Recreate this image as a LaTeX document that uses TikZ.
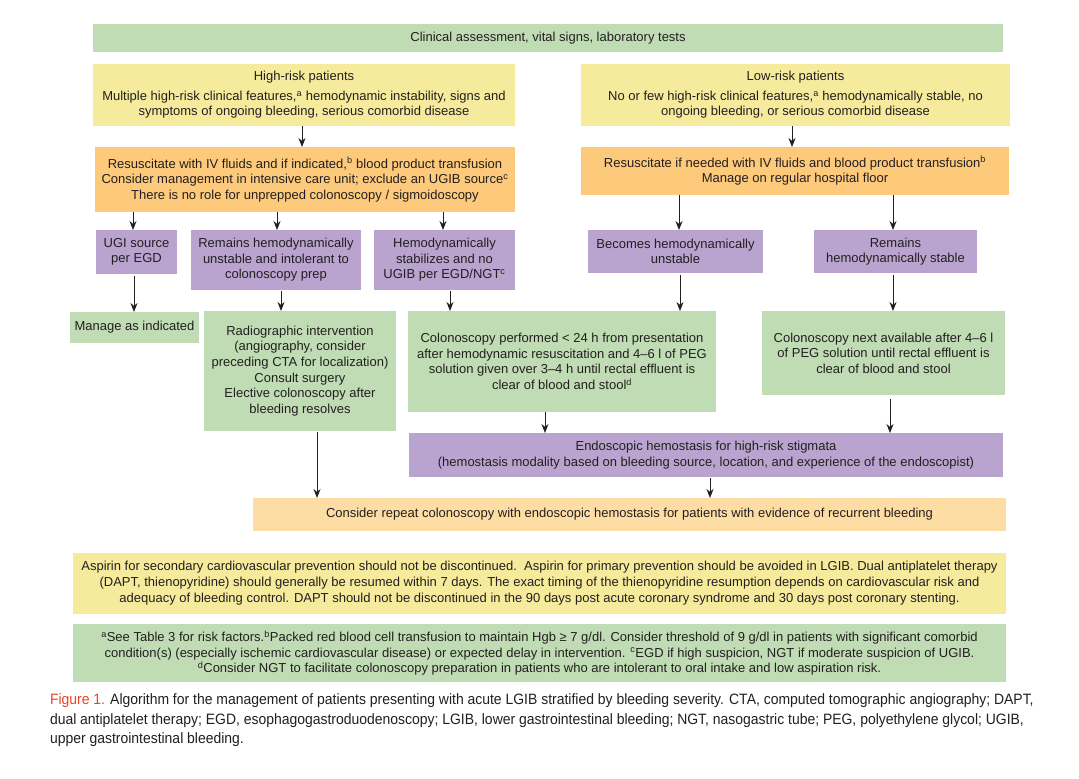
\documentclass[tikz,border=0pt]{standalone}
\usepackage{fontspec}
\setmainfont{Liberation Sans}
\newfontfamily\condf[FakeStretch=0.93]{Liberation Sans}
\usetikzlibrary{arrows.meta}
\definecolor{cgreen}{RGB}{192,220,180}
\definecolor{cyellow}{RGB}{246,235,156}
\definecolor{corange}{RGB}{253,201,122}
\definecolor{cpurple}{RGB}{185,164,208}
\definecolor{clight}{RGB}{254,221,165}
\definecolor{cred}{RGB}{232,68,40}
\definecolor{ctext}{RGB}{35,31,32}
\newcommand\fs{\fontsize{13}{15.6}\selectfont}
\newcommand\bx[7]{\node[#6, anchor=north west, minimum width={(#4)-(#2)}, minimum height={(#5)-(#3)}] (#1) at (#2,#3) {#7};}
\begin{document}
\begin{tikzpicture}[x=1pt,y=-1pt,
  every node/.style={text=ctext, inner sep=2pt, outer sep=0pt, align=center},
  gbox/.style={fill=cgreen, font=\fs},
  ybox/.style={fill=cyellow, font=\fs},
  obox/.style={fill=corange, font=\fs},
  pbox/.style={fill=cpurple, font=\fs},
  lbox/.style={fill=clight, font=\fs},
  arr/.style={draw=ctext, line width=1pt, -{Stealth[length=9pt,width=7pt]}}]
\useasboundingbox[fill=white] (0,0) rectangle (1079,779);
% column coordinates
\foreach \n/\v in {a/302,b/792,c/133,d/277,e/443,f/679,g/893,h/134,i/281,j/450,k/680,l/893,m/545,n/890,o/317,p/710}
  \coordinate (x\n) at (\v,0);
\bx{top}{93}{24}{1003}{52}{gbox}{Clinical assessment, vital signs, laboratory tests}
\bx{hr}{93}{64}{515}{126}{ybox}{High-risk patients\\[4pt]Multiple high-risk clinical features,\textsuperscript{a} hemodynamic instability, signs and\\symptoms of ongoing bleeding, serious comorbid disease}
\bx{lr}{581}{64}{1010}{126}{ybox}{Low-risk patients\\[4pt]No or few high-risk clinical features,\textsuperscript{a} hemodynamically stable, no\\ongoing bleeding, or serious comorbid disease}
\bx{hro}{95}{147}{515}{212}{obox}{Resuscitate with IV fluids and if indicated,\textsuperscript{b} blood product transfusion\\Consider management in intensive care unit; exclude an UGIB source\textsuperscript{c}\\There is no role for unprepped colonoscopy / sigmoidoscopy}
\bx{lro}{581}{147}{1009}{195}{obox}{Resuscitate if needed with IV fluids and blood product transfusion\textsuperscript{b}\\Manage on regular hospital floor}
\bx{ugi}{96}{230}{177}{274}{pbox}{UGI source\\per EGD}
\bx{rem}{191}{230}{361}{290}{pbox}{Remains hemodynamically\\unstable and intolerant to\\colonoscopy prep}
\bx{stab}{374}{230}{515}{290}{pbox}{Hemodynamically\\stabilizes and no\\UGIB per EGD/NGT\textsuperscript{c}}
\bx{bec}{588}{230}{763}{273}{pbox}{Becomes hemodynamically\\unstable}
\bx{rst}{814}{230}{977}{273}{pbox}{Remains\\hemodynamically stable}
\bx{man}{70}{312}{199}{343}{gbox}{Manage as indicated}
\bx{rad}{204}{311}{396}{431}{gbox}{Radiographic intervention\\(angiography, consider\\preceding CTA for localization)\\Consult surgery\\Elective colonoscopy after\\bleeding resolves}
\bx{perf}{408}{311}{716}{412}{gbox}{Colonoscopy performed < 24 h from presentation\\after hemodynamic resuscitation and 4–6 l of PEG\\solution given over 3–4 h until rectal effluent is\\clear of blood and stool\textsuperscript{d}}
\bx{next}{762}{311}{1005}{395}{gbox}{Colonoscopy next available after 4–6 l\\of PEG solution until rectal effluent is\\clear of blood and stool}
\bx{endo}{409}{433}{1003}{477}{pbox}{Endoscopic hemostasis for high-risk stigmata\\(hemostasis modality based on bleeding source, location, and experience of the endoscopist)}
\bx{cons}{253}{498}{1006}{531}{lbox}{Consider repeat colonoscopy with endoscopic hemostasis for patients with evidence of recurrent bleeding}
\bx{note1}{73}{553}{1006}{614}{ybox,font={\fontsize{13}{16}\selectfont}}{Aspirin for secondary cardiovascular prevention should not be discontinued.\ \ Aspirin for primary prevention should be avoided in LGIB. Dual antiplatelet therapy\\(DAPT, thienopyridine) should generally be resumed within 7 days. The exact timing of the thienopyridine resumption depends on cardiovascular risk and\\adequacy of bleeding control. DAPT should not be discontinued in the 90 days post acute coronary syndrome and 30 days post coronary stenting.}
\bx{note2}{73}{624}{1006}{682}{gbox,font={\fontsize{13}{15.5}\selectfont}}{\textsuperscript{a}See Table 3 for risk factors.\textsuperscript{b}Packed red blood cell transfusion to maintain Hgb ≥ 7 g/dl. Consider threshold of 9 g/dl in patients with significant comorbid\\condition(s) (especially ischemic cardiovascular disease) or expected delay in intervention. \textsuperscript{c}EGD if high suspicion, NGT if moderate suspicion of UGIB.\\\textsuperscript{d}Consider NGT to facilitate colonoscopy preparation in patients who are intolerant to oral intake and low aspiration risk.}
\node[anchor=north west, align=left, inner sep=0pt, font={\condf\fontsize{15}{19.5}\selectfont}] (cap) at (50,694) {\textcolor{cred}{Figure 1.} Algorithm for the management of patients presenting with acute LGIB stratified by bleeding severity. CTA, computed tomographic angiography; DAPT,\\dual antiplatelet therapy; EGD, esophagogastroduodenoscopy; LGIB, lower gastrointestinal bleeding; NGT, nasogastric tube; PEG, polyethylene glycol; UGIB,\\upper gastrointestinal bleeding.};
% connectors
\draw[arr] (hr.south -| xa) -- (hro.north -| xa);
\draw[arr] (lr.south -| xb) -- (lro.north -| xb);
\draw[arr] (hro.south -| xc) -- (ugi.north -| xc);
\draw[arr] (hro.south -| xd) -- (rem.north -| xd);
\draw[arr] (hro.south -| xe) -- (stab.north -| xe);
\draw[arr] (lro.south -| xf) -- (bec.north -| xf);
\draw[arr] (lro.south -| xg) -- (rst.north -| xg);
\draw[arr,shorten <=2pt] (ugi.south -| xh) -- (man.north -| xh);
\draw[arr,shorten <=1pt] (rem.south -| xi) -- (rad.north -| xi);
\draw[arr,shorten <=1pt] (stab.south -| xj) -- (perf.north -| xj);
\draw[arr,shorten <=2pt] (bec.south -| xk) -- (perf.north -| xk);
\draw[arr,shorten <=2pt] (rst.south -| xl) -- (next.north -| xl);
\draw[arr] (perf.south -| xm) -- (endo.north -| xm);
\draw[arr,shorten <=4pt] (next.south -| xn) -- (endo.north -| xn);
\draw[arr,shorten <=1pt] (rad.south -| xo) -- (cons.north -| xo);
\draw[arr,shorten <=1pt] (endo.south -| xp) -- (cons.north -| xp);
\end{tikzpicture}
\end{document}
